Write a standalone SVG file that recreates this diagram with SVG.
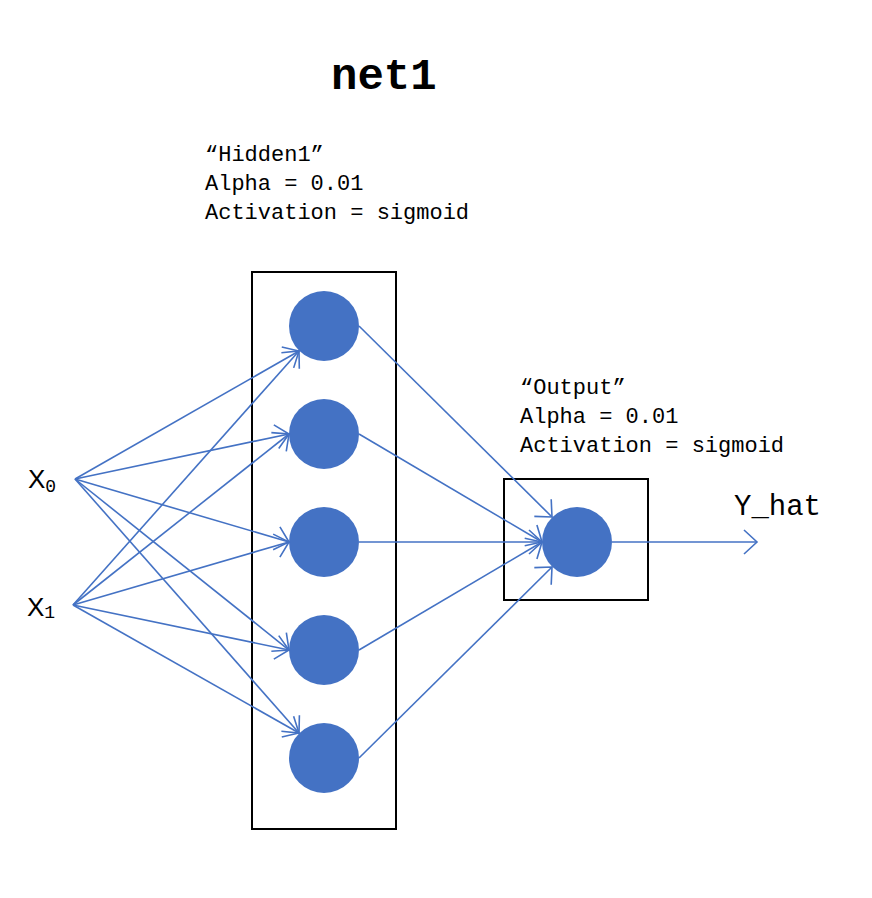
<svg xmlns="http://www.w3.org/2000/svg" width="872" height="898" viewBox="0 0 872 898">
<defs>
<style>
.mono{font-family:"Liberation Mono","DejaVu Sans Mono",monospace;fill:#000}
.lbl{font-size:22px}
.box{fill:none;stroke:#000;stroke-width:2}
.node{fill:#4472C4}
.edge{stroke:#4472C4;stroke-width:1.6;fill:none;marker-end:url(#arr)}
.sans{font-family:"Liberation Sans",Arial,sans-serif;fill:#000}
</style>
<marker id="arr" markerUnits="userSpaceOnUse" markerWidth="30" markerHeight="30" refX="0" refY="0" viewBox="-16 -15 18 30" orient="auto">
<path d="M-13,-12 L0,0 L-13,12" fill="none" stroke="#4472C4" stroke-width="1.6"/>
</marker>
</defs>
<rect width="872" height="898" fill="#fff"/>
<text class="mono" x="331" y="89" font-size="44" font-weight="bold">net1</text>
<g id="hidden-label" class="mono lbl">
<text x="205" y="161">“Hidden1”</text>
<text x="205" y="190">Alpha = 0.01</text>
<text x="205" y="219">Activation = sigmoid</text>
</g>
<g id="output-label" class="mono lbl">
<text x="520" y="394">“Output”</text>
<text x="520" y="423">Alpha = 0.01</text>
<text x="520" y="452">Activation = sigmoid</text>
</g>
<g id="hidden-layer"><rect class="box" x="252" y="272" width="144" height="557"/></g>
<g id="output-layer"><rect class="box" x="504" y="479" width="144" height="121"/></g>
<g id="x0"><text class="sans" x="28" y="488" font-size="26">X<tspan class="mono" font-size="18" dy="4">0</tspan></text></g>
<g id="x1"><text class="sans" x="27" y="616" font-size="26">X<tspan class="mono" font-size="18" dy="2">1</tspan></text></g>
<g id="yhat"><text class="mono" x="734" y="515" font-size="29">Y_hat</text></g>
<g id="h1"><circle class="node" cx="324" cy="326" r="35"/></g>
<g id="h2"><circle class="node" cx="324" cy="434" r="35"/></g>
<g id="h3"><circle class="node" cx="324" cy="542" r="35"/></g>
<g id="h4"><circle class="node" cx="324" cy="650" r="35"/></g>
<g id="h5"><circle class="node" cx="324" cy="758" r="35"/></g>
<g id="out"><circle class="node" cx="577" cy="542" r="35"/></g>
<g id="connectors">
<path class="edge" d="M75,479 L299,351"/>
<path class="edge" d="M75,479 L289,434"/>
<path class="edge" d="M75,479 L289,542"/>
<path class="edge" d="M75,479 L289,650"/>
<path class="edge" d="M75,479 L299,733"/>
<path class="edge" d="M73,605 L299,351"/>
<path class="edge" d="M73,605 L289,434"/>
<path class="edge" d="M73,605 L289,542"/>
<path class="edge" d="M73,605 L289,650"/>
<path class="edge" d="M73,605 L299,733"/>
<path class="edge" d="M359,326 L552,517"/>
<path class="edge" d="M359,434 L542,542"/>
<path class="edge" d="M359,542 L542,542"/>
<path class="edge" d="M359,650 L542,542"/>
<path class="edge" d="M359,758 L552,567"/>
<path class="edge" d="M612,542 L757,542"/>
</g>
</svg>
